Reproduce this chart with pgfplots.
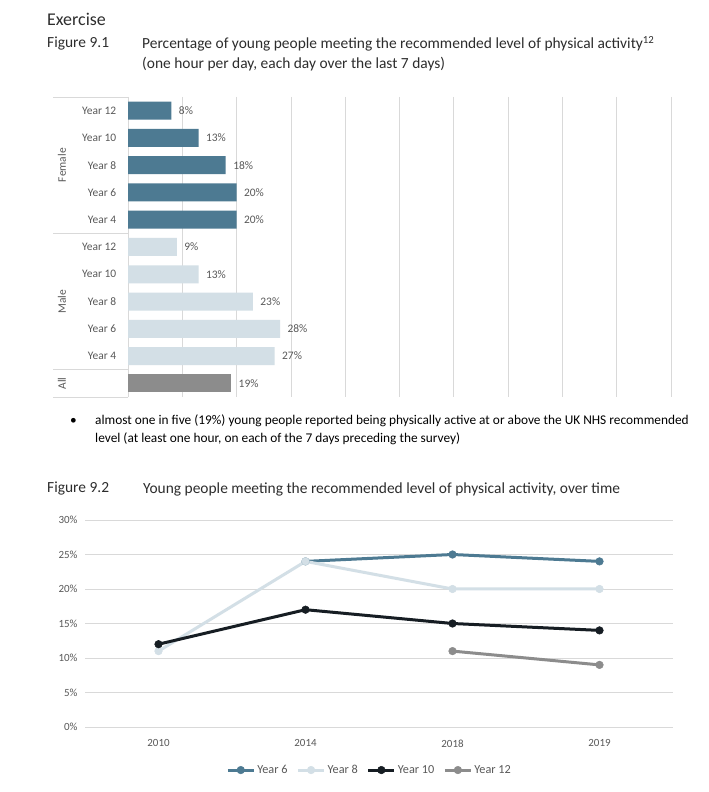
\documentclass[border=0pt]{standalone}
\usepackage{fontspec}
\setmainfont{Carlito}
\usepackage{pgfplots}
\pgfplotsset{compat=1.18}
\definecolor{femc}{RGB}{77,122,146}
\definecolor{malec}{RGB}{211,223,230}
\definecolor{allc}{RGB}{140,140,140}
\definecolor{y10c}{RGB}{22,29,35}
\definecolor{gridc}{RGB}{217,217,217}
\definecolor{txtc}{RGB}{89,89,89}
\definecolor{headc}{RGB}{45,45,45}
\newcommand{\fs}[1]{\fontsize{#1}{#1}\selectfont}

\begin{document}
\begin{tikzpicture}[x=1bp,y=1bp]
\fill[white] (0,0) rectangle (709,792);
\path[use as bounding box] (0,0) rectangle (709,792);

% headings
\node[anchor=west,inner sep=0,font=\fs{18},text=headc] at (47,773) {Exercise};
\node[anchor=west,inner sep=0,font=\fs{15.5},text=headc] at (47,748) {Figure 9.1};
\node[anchor=west,inner sep=0,font=\fs{15.5},text=headc] at (142,748) {Percentage of young people meeting the recommended level of physical activity\textsuperscript{12}};
\node[anchor=west,inner sep=0,font=\fs{15.5},text=headc] at (142,728) {(one hour per day, each day over the last 7 days)};

% bullet
\node[anchor=west,inner sep=0,font=\fs{13.4}] at (70,371) {•};
\node[anchor=west,inner sep=0,font=\fs{13.4}] at (95,371) {almost one in five (19\%) young people reported being physically active at or above the UK NHS recommended};
\node[anchor=west,inner sep=0,font=\fs{13.4}] at (95,353) {level (at least one hour, on each of the 7 days preceding the survey)};

\node[anchor=west,inner sep=0,font=\fs{15.5},text=headc] at (47,303) {Figure 9.2};
\node[anchor=west,inner sep=0,font=\fs{15.5},text=headc] at (143,303) {Young people meeting the recommended level of physical activity, over time};

% Figure 9.1
\begin{axis}[
  at={(128bp,395bp)}, anchor=south west,
  scale only axis, width=543bp, height=300bp,
  xmin=0, xmax=100, ymin=-0.5, ymax=10.5, y dir=reverse,
  xtick={0,10,...,100}, xticklabels={}, xmajorgrids,
  ytick={0,...,10},
  yticklabels={Year 12,Year 10,Year 8,Year 6,Year 4,Year 12,Year 10,Year 8,Year 6,Year 4,{}},
  axis line style={draw=none}, tick style={draw=none},
  major grid style={gridc, line width=0.8bp},
  yticklabel style={font=\fs{11.5}, text=txtc, xshift=-4bp},
  xbar, bar width=0.66,
  point meta=x,
  nodes near coords={\pgfmathprintnumber[assume math mode=true]{\pgfplotspointmeta}\%},
  every node near coord/.append style={anchor=west, font=\fs{11.5}, text=txtc, xshift=4bp},
  clip=false,
]
\addplot[fill=femc, draw=none, bar shift=0pt] coordinates {(8,0) (13,1) (18,2) (20,3) (20,4)};
\addplot[fill=malec, draw=none, bar shift=0pt] coordinates {(9,5) (13,6) (23,7) (28,8) (27,9)};
\addplot[fill=allc, draw=none, bar shift=0pt] coordinates {(19,10)};
\draw[gridc, line width=0.8bp] (axis cs:0,-0.5) -- ++(-75bp,0pt);
\draw[gridc, line width=0.8bp] (axis cs:0,4.5) -- ++(-75bp,0pt);
\draw[gridc, line width=0.8bp] (axis cs:0,9.5) -- ++(-75bp,0pt);
\draw[gridc, line width=0.8bp] (axis cs:0,10.5) -- ++(-75bp,0pt);
\node[rotate=90, font=\fs{11.5}, text=txtc] at ([xshift=-66bp]axis cs:0,2) {Female};
\node[rotate=90, font=\fs{11.5}, text=txtc] at ([xshift=-66bp]axis cs:0,7) {Male};
\node[rotate=90, font=\fs{11.5}, text=txtc] at ([xshift=-66bp]axis cs:0,10) {All};
\end{axis}

% Figure 9.2
\begin{axis}[
  at={(85bp,65bp)}, anchor=south west,
  scale only axis, width=588bp, height=207bp,
  xmin=-0.5, xmax=3.5, ymin=0, ymax=30,
  xtick={0,1,2,3}, xticklabels={2010,2014,2018,2019},
  ytick={0,5,...,30},
  yticklabel={\pgfmathprintnumber[assume math mode=true]{\tick}\%},
  ymajorgrids, major grid style={gridc, line width=0.8bp},
  axis line style={draw=none}, tick style={draw=none},
  ticklabel style={font=\fs{11}, text=txtc},
  xticklabel style={yshift=-9bp},
  yticklabel style={xshift=-4bp},
  legend style={at={(0.484,-0.208)}, anchor=center, draw=none, fill=none,
    legend columns=4, font=\fs{12.3}, text=txtc,
    /tikz/every even column/.append style={column sep=7bp}},
  legend image code/.code={\draw[mark repeat=2, mark phase=2, #1] plot coordinates {(0bp,0bp) (13bp,0bp) (26bp,0bp)};},
  every axis plot/.append style={line width=3bp, mark=*, mark size=3.8bp},
]
\addplot[femc, mark options={fill=femc, draw=femc, line width=0.5bp}] coordinates {(1,24) (2,25) (3,24)};
\addplot[malec, mark options={fill=malec, draw=malec, line width=0.5bp}] coordinates {(0,11) (1,24) (2,20) (3,20)};
\addplot[y10c, mark options={fill=y10c, draw=y10c, line width=0.5bp}] coordinates {(0,12) (1,17) (2,15) (3,14)};
\addplot[allc, mark options={fill=allc, draw=allc, line width=0.5bp}] coordinates {(2,11) (3,9)};
\legend{Year 6, Year 8, Year 10, Year 12}
\end{axis}
\end{tikzpicture}
\end{document}
